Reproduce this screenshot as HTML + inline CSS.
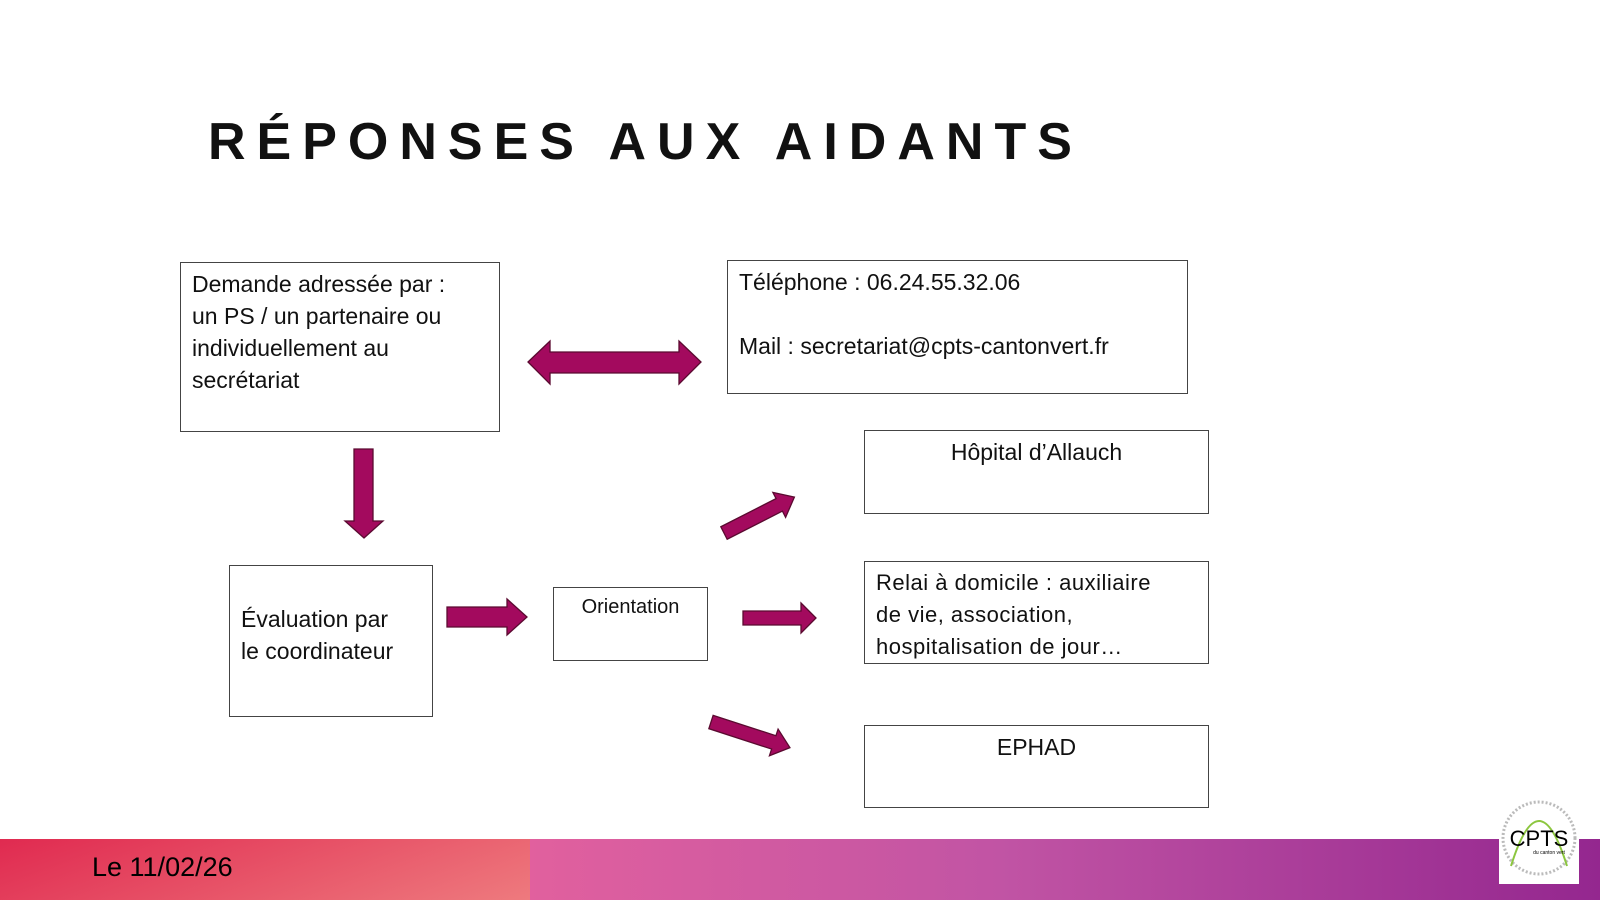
<!DOCTYPE html>
<html><head><meta charset="utf-8"><style>
html,body{margin:0;padding:0}
body{width:1600px;height:900px;position:relative;background:#fff;overflow:hidden;font-family:"Liberation Sans","DejaVu Sans",sans-serif}
.t{position:absolute;left:208px;top:112px;font-size:52px;font-weight:bold;letter-spacing:11px;color:#111}
.b{position:absolute;border:1.3px solid #444;box-sizing:border-box;font-size:23px;line-height:32px;color:#111;padding:5px 11px;white-space:nowrap}
.c{text-align:center}
.band{position:absolute;left:0;top:839px;width:1600px;height:61px;background:linear-gradient(90deg,#e1609e 530px,#c154a4 1000px,#94278f)}
.red{position:absolute;left:0;top:839px;width:530px;height:61px;background:linear-gradient(160deg,#e02a50,#ee7a7e)}
.date{position:absolute;left:92px;top:852px;font-size:27px;color:#000}
.logo{position:absolute;left:1499px;top:796px;width:80px;height:88px;background:#fff}
</style></head><body>
<div class="t">RÉPONSES AUX AIDANTS</div>
<div class="b" style="left:180px;top:262px;width:320px;height:170px">Demande adressée par :<br>un PS / un partenaire ou<br>individuellement au<br>secrétariat</div>
<div class="b" style="left:727px;top:260px;width:461px;height:134px">Téléphone : 06.24.55.32.06<br><br>Mail : secretariat@cpts-cantonvert.fr</div>
<div class="b c" style="left:864px;top:430px;width:345px;height:84px">Hôpital d’Allauch</div>
<div class="b" style="left:864px;top:561px;width:345px;height:103px;font-size:22px;letter-spacing:0.5px">Relai à domicile : auxiliaire<br>de vie, association,<br>hospitalisation de jour…</div>
<div class="b c" style="left:864px;top:725px;width:345px;height:83px">EPHAD</div>
<div class="b" style="left:229px;top:565px;width:204px;height:152px;padding-top:37px">Évaluation par<br>le coordinateur</div>
<div class="b c" style="left:553px;top:587px;width:155px;height:74px;font-size:20px;padding-top:3px">Orientation</div>
<svg width="1600" height="900" style="position:absolute;left:0;top:0">
<g fill="#a30a5e" stroke="#5a0a30" stroke-width="1.3">
<polygon points="528,362 550,341 550,352 679,352 679,341 701,362 679,384 679,373 550,373 550,384"/>
<polygon points="354,449 373,449 373,521 383,521 364,538 345,521 354,521"/>
<polygon points="447,607 507,607 507,599 527,617 507,635 507,627 447,627"/>
<polygon points="743,611 801,611 801,603 816,618 801,633 801,625 743,625"/>
<g transform="translate(724,533) rotate(-27)"><polygon points="0,-7 62,-7 62,-14 79,0 62,14 62,7 0,7"/></g>
<g transform="translate(711,722) rotate(18)"><polygon points="0,-7 66,-7 66,-14 83,0 66,14 66,7 0,7"/></g>
</g></svg>
<div class="band"></div><div class="red"></div>
<div class="date">Le 11/02/26</div>
<div class="logo"><svg width="80" height="88"><circle cx="40" cy="42" r="36" fill="none" stroke="#bbb" stroke-width="3" stroke-dasharray="2 2"/><path d="M12 70 Q40 -20 68 70" fill="none" stroke="#8cc63f" stroke-width="2"/><text x="40" y="50" font-size="22" text-anchor="middle" font-family="Liberation Sans">CPTS</text><text x="50" y="58" font-size="5" text-anchor="middle">du canton vert</text></svg></div>
</body></html>
